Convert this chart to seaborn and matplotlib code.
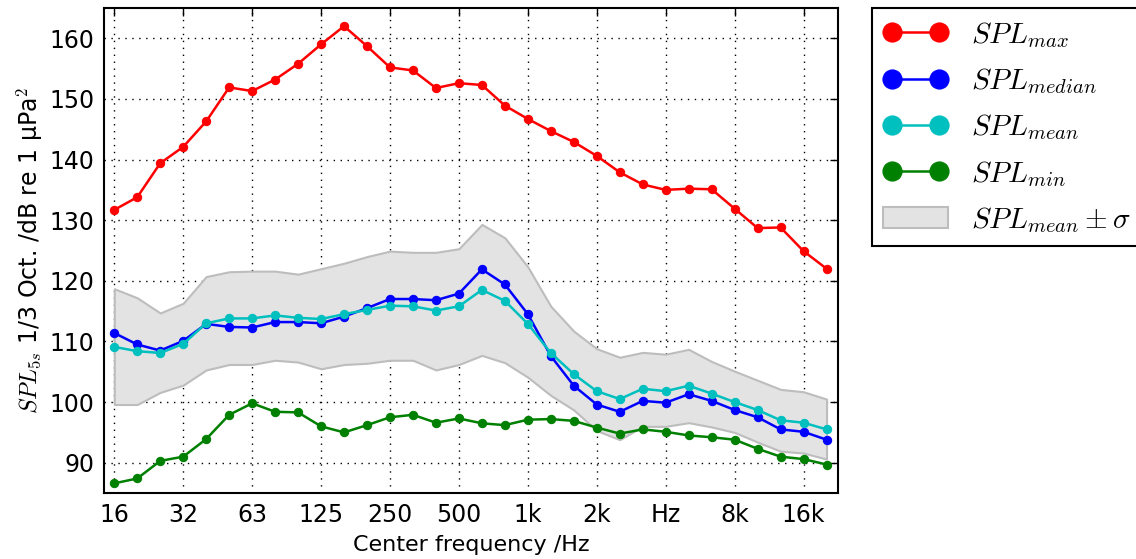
import numpy as np
import pandas as pd
import seaborn as sns
import matplotlib.pyplot as plt

# 1/3 octave bands 16 Hz .. 20 kHz
bands = ['16', '20', '25', '31.5', '40', '50', '63', '80', '100', '125', '160',
         '200', '250', '315', '400', '500', '630', '800', '1k', '1.25k', '1.6k',
         '2k', '2.5k', '3.15k', '4k', '5k', '6.3k', '8k', '10k', '12.5k', '16k', '20k']
tick_labels = ['16', '32', '63', '125', '250', '500', '1k', '2k', 'Hz', '8k', '16k']

spl_max = [131.7, 133.8, 139.4, 142.1, 146.3, 151.9, 151.3, 153.2, 155.8, 159.0, 162.0,
           158.7, 155.2, 154.7, 151.8, 152.6, 152.3, 148.9, 146.7, 144.7, 142.9,
           140.6, 137.9, 135.9, 135.0, 135.2, 135.1, 131.9, 128.7, 128.8, 124.9, 122.0]
spl_median = [111.4, 109.5, 108.5, 110.1, 112.9, 112.4, 112.3, 113.2, 113.2, 113.0, 114.1,
              115.5, 117.0, 117.0, 116.8, 117.9, 121.9, 119.4, 114.5, 107.6, 102.7,
              99.6, 98.4, 100.2, 99.9, 101.3, 100.2, 98.7, 97.5, 95.5, 95.1, 93.8]
spl_mean = [109.1, 108.4, 108.1, 109.6, 113.0, 113.8, 113.8, 114.3, 113.9, 113.7, 114.5,
            115.2, 115.9, 115.8, 115.1, 115.8, 118.5, 116.7, 112.9, 108.1, 104.6,
            101.8, 100.5, 102.2, 101.8, 102.7, 101.4, 100.0, 98.7, 97.0, 96.6, 95.5]
spl_min = [86.6, 87.4, 90.3, 91.0, 93.9, 97.9, 99.8, 98.4, 98.3, 96.0, 95.0,
           96.2, 97.5, 97.9, 96.6, 97.3, 96.5, 96.2, 97.1, 97.2, 96.9,
           95.8, 94.8, 95.5, 95.1, 94.5, 94.2, 93.8, 92.3, 91.0, 90.6, 89.7]
sigma_upper = [118.7, 117.2, 114.7, 116.3, 120.7, 121.5, 121.6, 121.6, 121.1, 122.0, 122.9,
               124.0, 124.9, 124.7, 124.7, 125.3, 129.3, 127.1, 122.3, 115.8, 111.7,
               108.8, 107.4, 108.2, 107.9, 108.7, 106.7, 105.1, 103.6, 102.1, 101.7, 100.5]
sigma_lower = [99.6, 99.6, 101.6, 102.8, 105.3, 106.2, 106.2, 106.9, 106.6, 105.5, 106.2,
               106.4, 106.9, 106.9, 105.3, 106.2, 107.7, 106.5, 104.1, 101.1, 98.7,
               95.3, 93.8, 96.0, 96.0, 96.6, 95.9, 95.0, 93.4, 91.9, 91.6, 90.6]

df = pd.DataFrame({'pos': np.arange(len(bands)), 'band': bands,
                   'max': spl_max, 'median': spl_median, 'mean': spl_mean, 'min': spl_min,
                   'upper': sigma_upper, 'lower': sigma_lower})

sns.set_style('white')
plt.rcParams['mathtext.fontset'] = 'cm'
plt.rcParams['font.family'] = ['DejaVu Sans']
plt.rcParams['text.color'] = 'black'
plt.rcParams['axes.labelcolor'] = 'black'
plt.rcParams['xtick.color'] = 'black'
plt.rcParams['ytick.color'] = 'black'

fig = plt.figure(figsize=(11.36, 5.59), dpi=100)
ax = fig.add_axes([0.0915, 0.118, 0.6462, 0.8677])

fill = ax.fill_between(df['pos'], df['lower'], df['upper'], facecolor='#e3e3e3',
                       edgecolor='#bdbdbd', linewidth=1.5, zorder=1)

series = [('max', 'red', r'$SPL_{max}$'),
          ('median', 'blue', r'$SPL_{median}$'),
          ('mean', '#00bfbf', r'$SPL_{mean}$'),
          ('min', 'green', r'$SPL_{min}$')]
for col, color, lab in series:
    sns.lineplot(data=df, x='pos', y=col, ax=ax, color=color, marker='o', markersize=6,
                 markeredgecolor=color, linewidth=1.8, label=lab, zorder=3)

handles, labels = ax.get_legend_handles_labels()
handles.append(fill)
labels.append(r'$SPL_{mean} \pm \sigma$')
ax.legend(handles, labels, loc='upper left', bbox_to_anchor=(1.046, 1.0), borderaxespad=0,
          numpoints=2, markerscale=2.3, fontsize=21, frameon=True, fancybox=False,
          edgecolor='black', framealpha=1, handlelength=2.2, labelspacing=0.56,
          borderpad=0.4)
ax.get_legend().get_frame().set_linewidth(1.5)

ax.set_xlim(-0.45, 31.5)
ax.set_ylim(85, 165)
ax.set_xticks(np.arange(0, 31, 3))
ax.set_xticklabels(tick_labels)
ax.set_yticks(np.arange(90, 161, 10))
ax.tick_params(direction='in', length=6, width=1, top=True, right=True,
               labelsize=17, pad=7)
ax.grid(True, linestyle=(0, (1, 4)), color='black', linewidth=1)
for s in ax.spines.values():
    s.set_color('black')
    s.set_linewidth(1.5)

ax.set_xlabel('Center frequency /Hz', fontsize=16, labelpad=6)
ax.set_ylabel(r'$SPL_{5s}$ 1/3 Oct. /dB re 1 µPa$^2$', fontsize=17, labelpad=3)

fig.savefig('out.png', dpi=100)
